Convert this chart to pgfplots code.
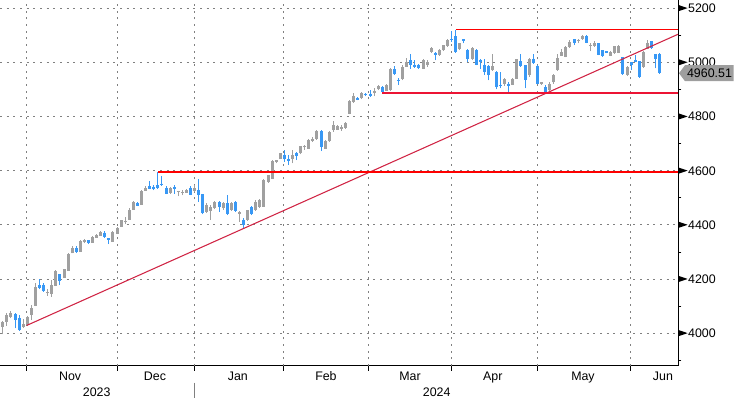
\documentclass[border=0pt]{standalone}
\usepackage{pgfplots}
\pgfplotsset{compat=1.18}
\usepackage{pgfplotstable}
\usepackage{fontspec}
\setmainfont{Liberation Sans}
\definecolor{cgray}{RGB}{160,160,160}
\definecolor{cblue}{RGB}{56,152,245}
\definecolor{gridgray}{RGB}{128,128,128}
\definecolor{trendred}{RGB}{208,36,68}
\definecolor{linered}{RGB}{255,0,0}
\definecolor{supred}{RGB}{236,20,52}
\definecolor{boxgray}{RGB}{158,158,158}
\def\px{0.75pt}
\newcommand{\lblfont}{\fontsize{9.3}{11}\selectfont}
\newcommand{\ytri}{\tikz[baseline={(0pt,-0.358em)}]\fill[black] (0pt,2.4pt)--(7pt,0pt)--(0pt,-2.4pt)--cycle;\kern0.4pt}
\pgfplotstableread{
i o h l c
1 4080 4083 4024 4027
2 4024 4046 3996 4043
3 4043 4076 4027 4067
4 4061 4083 4055 4076
5 4071 4076 4018 4049
6 4057 4067 4009 4014
7 4022 4051 4019 4036
8 4030 4063 4027 4061
9 4067 4104 4049 4095
10 4100 4186 4100 4172
11 4178 4200 4162 4169
12 4178 4186 4153 4157
13 4147 4163 4138 4153
14 4145 4196 4135 4178
15 4174 4233 4174 4231
16 4218 4220 4178 4194
17 4206 4238 4206 4236
18 4231 4295 4231 4292
19 4295 4324 4295 4314
20 4314 4324 4298 4300
21 4300 4346 4300 4341
22 4336 4349 4332 4344
23 4344 4346 4329 4332
24 4335 4359 4335 4356
25 4353 4365 4353 4362
26 4360 4376 4360 4373
27 4372 4377 4353 4355
28 4351 4352 4329 4344
29 4338 4376 4338 4373
30 4366 4393 4366 4387
31 4393 4420 4393 4418
32 4410 4430 4405 4416
33 4418 4461 4418 4457
34 4457 4489 4457 4485
35 4482 4485 4469 4471
36 4475 4528 4475 4526
37 4526 4543 4526 4538
38 4543 4562 4531 4532
39 4541 4547 4528 4531
40 4547 4595 4533 4538
41 4553 4581 4544 4548
42 4538 4543 4514 4516
43 4519 4541 4516 4536
44 4541 4548 4516 4533
45 4521 4525 4506 4525
46 4520 4528 4509 4523
47 4519 4533 4519 4528
48 4538 4543 4510 4512
49 4526 4546 4522 4538
50 4528 4569 4485 4512
51 4514 4516 4439 4445
52 4448 4482 4445 4473
53 4452 4473 4418 4467
54 4461 4489 4458 4485
55 4485 4488 4448 4467
56 4461 4484 4457 4482
57 4482 4510 4436 4442
58 4455 4485 4452 4482
59 4485 4488 4448 4451
60 4442 4452 4412 4448
61 4420 4424 4387 4399
62 4418 4457 4415 4455
63 4467 4470 4436 4439
64 4455 4494 4452 4485
65 4467 4497 4464 4494
66 4467 4568 4467 4565
67 4559 4586 4556 4584
68 4571 4639 4571 4637
69 4634 4640 4627 4639
70 4643 4667 4643 4664
71 4660 4676 4633 4645
72 4644 4660 4621 4637
73 4643 4676 4627 4658
74 4664 4670 4639 4656
75 4664 4693 4661 4691
76 4686 4694 4678 4691
77 4682 4719 4681 4715
78 4710 4723 4706 4719
79 4717 4749 4715 4746
80 4746 4749 4673 4688
81 4682 4713 4681 4709
82 4709 4747 4708 4744
83 4750 4783 4744 4768
84 4752 4769 4750 4765
85 4756 4768 4747 4761
86 4758 4781 4756 4777
87 4809 4860 4808 4858
88 4854 4888 4852 4875
89 4869 4871 4860 4863
90 4867 4890 4864 4888
91 4885 4888 4876 4879
92 4885 4897 4873 4876
93 4889 4904 4875 4894
94 4901 4916 4897 4912
95 4910 4912 4887 4892
96 4895 4920 4894 4916
97 4897 4980 4895 4977
98 4975 4986 4955 4959
99 4937 4943 4918 4931
100 4938 4990 4934 4984
101 4984 5017 4984 5002
102 5008 5033 4977 4990
103 4992 5008 4981 4984
104 4992 4995 4977 4980
105 4977 5011 4975 5008
106 4992 5008 4984 5002
107 5039 5056 5036 5054
108 5036 5039 5008 5027
109 5027 5048 5024 5045
110 5045 5066 5042 5064
111 5061 5088 5058 5082
112 5086 5115 5076 5082
113 5097 5121 5036 5039
114 5048 5072 5045 5070
115 5086 5088 5070 5081
116 5045 5048 5002 5014
117 5014 5056 5008 5054
118 5045 5048 4989 4992
119 5008 5014 4977 5002
120 4992 5014 4953 4965
121 4987 4990 4934 4955
122 4971 5033 4969 4987
123 4965 4968 4901 4910
124 4918 4965 4904 4913
125 4922 4943 4913 4938
126 4922 4928 4891 4912
127 4918 4943 4916 4938
128 4940 5014 4938 5011
129 5004 5033 4984 4987
130 4990 4992 4904 4934
131 4953 5017 4947 5014
132 5014 5033 4996 4998
133 4987 4990 4919 4922
134 4921 4928 4918 4926
135 4910 4916 4888 4891
136 4897 4928 4895 4922
137 4926 4959 4922 4955
138 4971 5033 4969 5017
139 5024 5051 5023 5039
140 5020 5061 5019 5057
141 5057 5082 5054 5076
142 5086 5088 5064 5070
143 5080 5086 5070 5084
144 5086 5103 5082 5098
145 5098 5100 5070 5073
146 5060 5070 5041 5064
147 5061 5078 5058 5073
148 5070 5072 5026 5029
149 5045 5047 5021 5024
150 5041 5044 5034 5036
151 5024 5041 5023 5039
152 5036 5061 5033 5061
153 5036 5063 5034 5061
154 5020 5021 4955 4959
155 4953 4986 4950 4984
156 5000 5001 4971 4992
157 5008 5027 5002 5002
158 5004 5007 4943 4947
159 4984 5041 4981 5039
160 5051 5082 5048 5070
161 5078 5081 5051 5054
162 5030 5033 4978 5012
163 5030 5035 4958 4960.51
}\candles
\begin{document}
\begin{tikzpicture}
\begin{axis}[
  scale only axis, width=508.5pt, height=274.5pt,
  xmin=1.309, xmax=167.49, ymin=3879.3, ymax=5230.6,
  axis x line*=bottom, axis y line*=right,
  axis line style={-, black, line width=0.75pt},
  tick align=outside, major tick length=0pt, minor tick length=2.5pt,
  tick style={black, line width=0.75pt},
  xtick={18.5,39.3,59.6,81.2,101.8,122.1,144.2,163.8},
  xticklabels={Nov,Dec,Jan,Feb,Mar,Apr,May,Jun},
  xticklabel style={anchor=base, yshift=-11.25pt, inner sep=0pt},
  extra x ticks={7.9,30.0,48.9,70.9,91.7,112.0,133.1,155.8},
  extra x tick labels={},
  extra x tick style={grid=major, major tick length=3.75pt},
  ytick={4000,4200,...,5200},
  yticklabels={\ytri 4000,\ytri 4200,\ytri 4400,\ytri 4600,\ytri 4800,\ytri 5000,\ytri 5200},
  minor ytick={3900,4100,...,5100},
  yticklabel pos=right,
  yticklabel style={anchor=west, inner sep=0pt, xshift=0pt},
  ymajorgrids=true,
  major grid style={gridgray, line width=0.75pt, dash pattern=on 1.5pt off 3.5pt},
  every tick label/.append style={font=\lblfont, text=black},
  clip=true,
]
% up candles (gray): wicks, then bodies
\addplot[cgray, line width=0.75pt, quiver={u=0, v=\thisrow{h}-\thisrow{l}},
  restrict expr to domain={\thisrow{c}-\thisrow{o}}{0:10000}] table[x=i, y=l] {\candles};
\addplot[cgray, line width=2.25pt, quiver={u=0, v=\thisrow{c}-\thisrow{o}},
  restrict expr to domain={\thisrow{c}-\thisrow{o}}{0:10000}] table[x=i, y=o] {\candles};
% down candles (blue)
\addplot[cblue, line width=0.75pt, quiver={u=0, v=\thisrow{h}-\thisrow{l}},
  restrict expr to domain={\thisrow{o}-\thisrow{c}}{0:10000}] table[x=i, y=l] {\candles};
\addplot[cblue, line width=2.25pt, quiver={u=0, v=\thisrow{c}-\thisrow{o}},
  restrict expr to domain={\thisrow{o}-\thisrow{c}}{0:10000}] table[x=i, y=o] {\candles};
% trend and levels
\addplot[trendred, line width=0.8pt] coordinates {(7.85,4029) (167.49,5104)};
\addplot[linered, line width=1.0pt] coordinates {(40,4595) (167.49,4595)};
\addplot[supred, line width=1.7pt] coordinates {(95,4887) (167.49,4887)};
\addplot[linered, line width=0.75pt] coordinates {(113,5121) (167.49,5121)};
\end{axis}
\node[anchor=base, font=\lblfont, inner sep=0pt] at ({96.7*\px},{-30.7*\px}) {2023};
\node[anchor=base, font=\lblfont, inner sep=0pt] at ({436.7*\px},{-30.7*\px}) {2024};
\draw[gridgray, line width=0.75pt] ({194.3*\px},{-16.7*\px}) -- ({194.3*\px},{-32*\px});
\fill[boxgray] ({679*\px},{292.8*\px}) -- ({685*\px},{300.8*\px}) -- ({733.5*\px},{300.8*\px}) -- ({733.5*\px},{284.8*\px}) -- ({685*\px},{284.8*\px}) -- cycle;
\node[anchor=base, font=\lblfont, inner sep=0pt] at ({709.5*\px},{288.3*\px}) {4960.51};
\pgfresetboundingbox
\path (0pt,{-32*\px}) rectangle ({735*\px},{366*\px});
\end{tikzpicture}
\end{document}
